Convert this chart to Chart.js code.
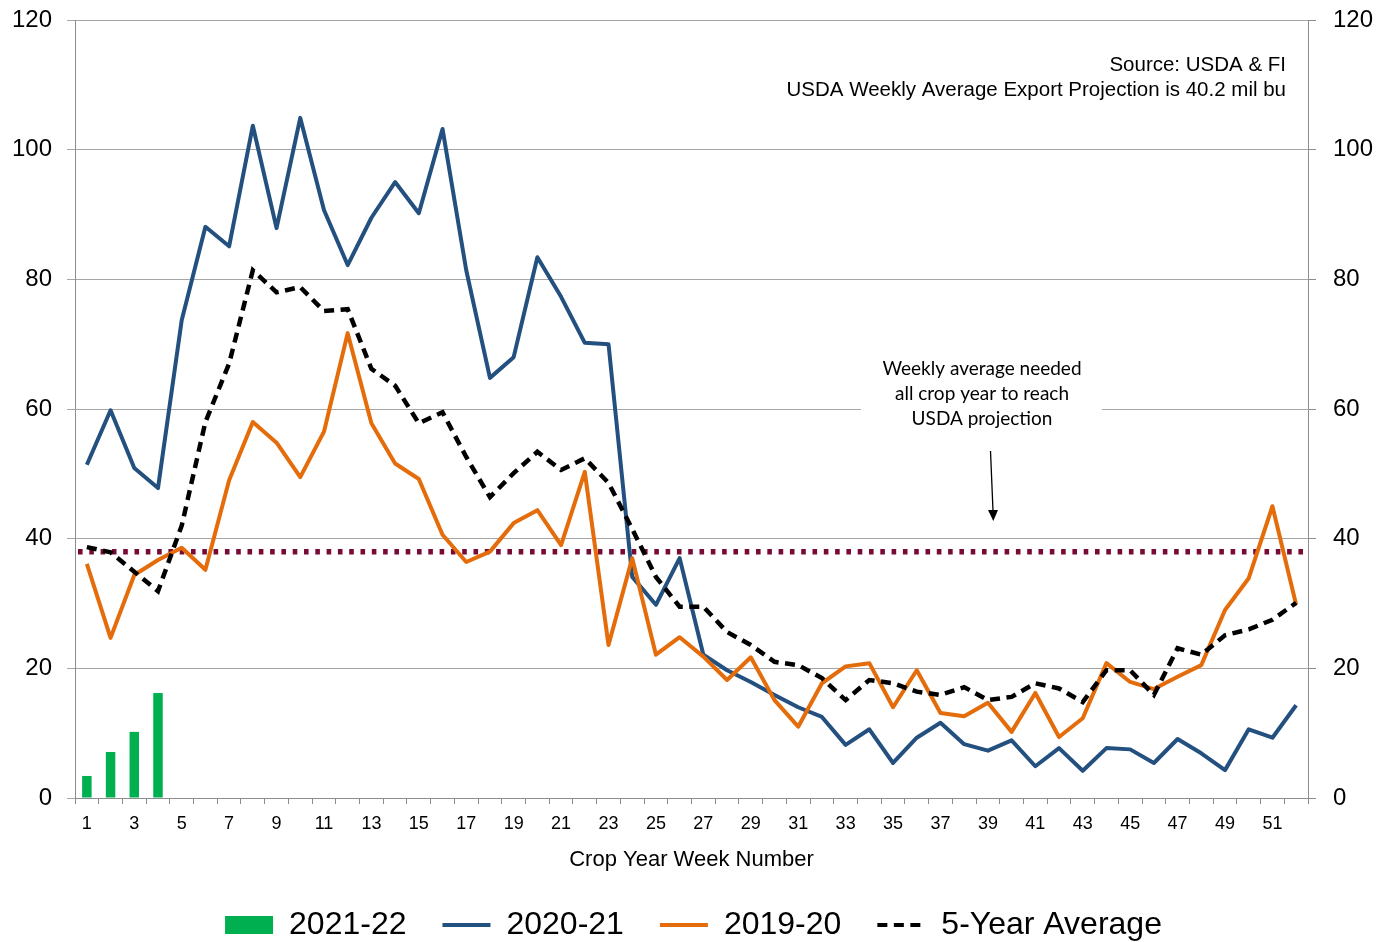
<!DOCTYPE html>
<html>
<head>
<meta charset="utf-8">
<script src="https://cdn.jsdelivr.net/npm/chart.js@4.4.1/dist/chart.umd.min.js"></script>
<style>
  html, body { margin: 0; padding: 0; background: #ffffff; }
  #wrap { width: 1387px; height: 942px; position: relative; }
</style>
</head>
<body>
<div id="wrap"><canvas id="c" width="1387" height="942"></canvas></div>
<script>
// ---------- data ----------
const weeks = ['1','2','3','4','5','6','7','8','9','10','11','12','13','14','15','16','17','18','19','20',
  '21','22','23','24','25','26','27','28','29','30','31','32','33','34','35','36','37','38','39','40',
  '41','42','43','44','45','46','47','48','49','50','51','52'];

const y2021_22 = [3.4, 7.1, 10.2, 16.2];

const y2020_21 = [51.4, 59.8, 50.9, 47.8, 73.7, 88.1, 85.1, 103.7, 87.9, 104.9,
  90.7, 82.2, 89.5, 95.0, 90.2, 103.2, 81.4, 64.8, 68.0, 83.4,
  77.3, 70.2, 70.0, 34.1, 29.8, 37.0, 22.1, 19.7, 17.9, 15.9,
  14.0, 12.5, 8.2, 10.6, 5.4, 9.3, 11.6, 8.3, 7.3, 8.9,
  4.9, 7.7, 4.2, 7.7, 7.5, 5.4, 9.1, 6.9, 4.3, 10.6,
  9.3, 14.3];

const y2019_20 = [36.1, 24.7, 34.4, 36.7, 38.6, 35.2, 49.0, 58.0, 54.8, 49.5,
  56.5, 71.7, 57.8, 51.6, 49.2, 40.6, 36.4, 38.0, 42.4, 44.4,
  39.0, 50.3, 23.6, 37.0, 22.1, 24.8, 21.8, 18.2, 21.7, 15.1,
  11.0, 17.7, 20.3, 20.8, 14.0, 19.7, 13.1, 12.6, 14.7, 10.2,
  16.2, 9.4, 12.3, 20.8, 17.9, 16.8, 18.7, 20.5, 29.0, 33.9,
  45.0, 29.8];

const avg5yr = [38.7, 37.9, 34.9, 31.9, 42.0, 58.0, 67.0, 81.4, 78.0, 78.8,
  75.1, 75.4, 66.2, 63.6, 57.8, 59.5, 52.6, 46.4, 50.1, 53.4,
  50.6, 52.4, 48.6, 41.5, 34.1, 29.5, 29.5, 25.6, 23.6, 21.0,
  20.5, 18.5, 15.1, 18.2, 17.7, 16.4, 15.9, 17.1, 15.1, 15.6,
  17.7, 16.9, 14.8, 19.7, 19.7, 15.9, 23.1, 22.1, 25.1, 26.0,
  27.5, 30.1];

const neededWeeklyAvg = 38.0;

const seriesNames = ['2021-22', '2020-21', '2019-20', '5-Year Average'];
const yTicks = [0, 20, 40, 60, 80, 100, 120];

const sourceLines = ['Source: USDA & FI', 'USDA Weekly Average Export Projection is 40.2 mil bu'];
const noteLines = ['Weekly average needed', 'all crop year to reach', 'USDA projection'];

// ---------- styles ----------
const GREEN = '#00b050';
const BLUE = '#23507f';
const ORANGE = '#e46c0a';
const BLACK = '#000000';
const MAROON = '#780a36';
const GRID = '#a6a6a6';
const AXIS = '#8c8c8c';
const FONT = "'Liberation Sans', Arial, sans-serif";

Chart.defaults.font.family = FONT;
Chart.defaults.color = '#000';

const refLinePlugin = {
  id: 'refLine',
  beforeDatasetsDraw(chart) {
    const { ctx, chartArea: a, scales } = chart;
    const py = scales.y.getPixelForValue(neededWeeklyAvg);
    ctx.save();
    ctx.strokeStyle = MAROON;
    ctx.lineWidth = 5.5;
    ctx.setLineDash([4.6, 6.7]);
    ctx.beginPath();
    ctx.moveTo(a.left + 3, py);
    ctx.lineTo(a.right, py);
    ctx.stroke();
    ctx.restore();
  }
};

const notesPlugin = {
  id: 'notes',
  beforeDatasetsDraw(chart) {
    const { ctx } = chart;
    ctx.save();
    // white box behind the note (covers gridline)
    ctx.fillStyle = '#ffffff';
    ctx.fillRect(861, 354, 241, 78);
    ctx.fillStyle = '#000';
    ctx.font = "19px Lato, 'Open Sans', sans-serif";
    ctx.textAlign = 'center';
    ctx.textBaseline = 'middle';
    noteLines.forEach((t, i) => ctx.fillText(t, 982, 369 + i * 25));
    // arrow
    ctx.strokeStyle = '#000';
    ctx.lineWidth = 1.3;
    ctx.beginPath();
    ctx.moveTo(990.5, 451);
    ctx.lineTo(993, 511);
    ctx.stroke();
    ctx.beginPath();
    ctx.moveTo(988, 510);
    ctx.lineTo(998, 510);
    ctx.lineTo(993.3, 521);
    ctx.closePath();
    ctx.fill();
    // source text
    ctx.font = "20.5px " + FONT;
    ctx.textAlign = 'right';
    sourceLines.forEach((t, i) => ctx.fillText(t, 1286, 65 + i * 25));
    ctx.restore();
  }
};

const ctx = document.getElementById('c').getContext('2d');
new Chart(ctx, {
  type: 'bar',
  data: {
    labels: weeks,
    datasets: [
      {
        type: 'bar', label: seriesNames[0], data: y2021_22,
        backgroundColor: GREEN, borderWidth: 0,
        barPercentage: 0.5, categoryPercentage: 0.8, yAxisID: 'y', order: 4
      },
      {
        type: 'line', label: seriesNames[1], data: y2020_21,
        borderColor: BLUE, backgroundColor: BLUE, borderWidth: 4,
        pointRadius: 0, tension: 0, fill: false, yAxisID: 'y', order: 2,
        borderJoinStyle: 'round'
      },
      {
        type: 'line', label: seriesNames[2], data: y2019_20,
        borderColor: ORANGE, backgroundColor: ORANGE, borderWidth: 4,
        pointRadius: 0, tension: 0, fill: false, yAxisID: 'y', order: 1,
        borderJoinStyle: 'round'
      },
      {
        type: 'line', label: seriesNames[3], data: avg5yr,
        borderColor: BLACK, backgroundColor: BLACK, borderWidth: 4.5,
        borderDash: [10, 6.5],
        pointRadius: 0, tension: 0, fill: false, yAxisID: 'y', order: 0
      }
    ]
  },
  options: {
    responsive: false,
    animation: false,
    devicePixelRatio: 1,
    layout: { padding: { top: 20, left: 0, right: 0, bottom: 0 } },
    plugins: {
      tooltip: { enabled: false },
      title: { display: false },
      legend: {
        display: true,
        position: 'bottom',
        maxHeight: 69,
        labels: {
          font: { size: 32, family: FONT },
          color: '#000',
          usePointStyle: true,
          pointStyleWidth: 48,
          boxHeight: 18,
          padding: 36,
          generateLabels(chart) {
            return chart.data.datasets.map((ds, i) => ({
              text: ds.label,
              fillStyle: i === 0 ? GREEN : ds.borderColor,
              strokeStyle: i === 0 ? GREEN : ds.borderColor,
              lineWidth: i === 0 ? 0 : 4,
              lineDash: ds.borderDash || [],
              lineCap: 'butt',
              pointStyle: i === 0 ? 'rect' : 'line',
              fontColor: '#000',
              hidden: false,
              datasetIndex: i
            }));
          }
        }
      }
    },
    scales: {
      x: {
        type: 'category',
        offset: true,
        grid: {
          offset: true, drawOnChartArea: false, drawTicks: true,
          tickLength: 6, color: AXIS, lineWidth: 1
        },
        border: { display: true, color: AXIS, width: 1 },
        ticks: {
          autoSkip: false, maxRotation: 0, minRotation: 0,
          font: { size: 18 }, color: '#000', padding: 9,
          callback: (v, i) => (i % 2 === 0 ? weeks[i] : '')
        },
        title: {
          display: true, text: 'Crop Year Week Number',
          font: { size: 22 }, color: '#000', padding: { top: 0, bottom: 0 }
        },
        afterFit(scale) { scale.height = 75; }
      },
      y: {
        position: 'left',
        min: 0, max: 120,
        afterBuildTicks(scale) { scale.ticks = yTicks.map(v => ({ value: v })); },
        grid: { color: GRID, lineWidth: 1, tickLength: 8, drawTicks: true },
        border: { display: true, color: AXIS, width: 1 },
        ticks: { font: { size: 24, lineHeight: 0.2 }, color: '#000', padding: 15 },
        afterFit(scale) { scale.width = 75; }
      },
      y2: {
        position: 'right',
        min: 0, max: 120,
        afterBuildTicks(scale) { scale.ticks = yTicks.map(v => ({ value: v })); },
        grid: { drawOnChartArea: false, color: AXIS, tickLength: 8, drawTicks: true },
        border: { display: true, color: AXIS, width: 1 },
        ticks: { font: { size: 24, lineHeight: 0.2 }, color: '#000', padding: 17 },
        afterFit(scale) { scale.width = 79; }
      }
    }
  },
  plugins: [refLinePlugin, notesPlugin]
});
</script>
</body>
</html>
